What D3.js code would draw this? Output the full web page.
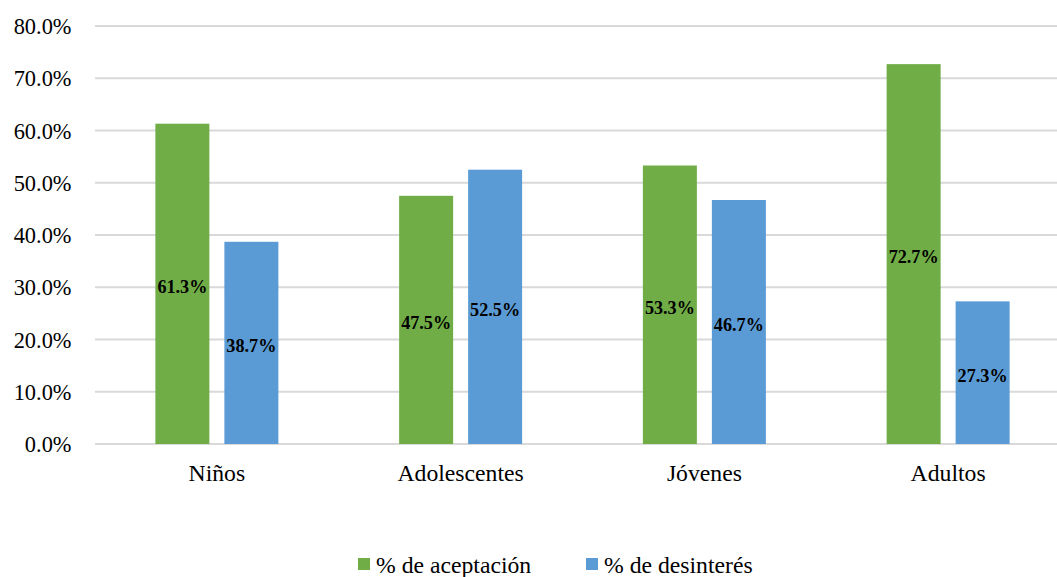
<!DOCTYPE html>
<html><head><meta charset="utf-8">
<script src="https://cdn.jsdelivr.net/npm/d3@7"></script>
<style>body{margin:0;background:#fff}svg{display:block}</style>
</head><body>
<script>
const categories = ["Niños", "Adolescentes", "Jóvenes", "Adultos"];
const seriesNames = ["% de aceptación", "% de desinterés"];
const aceptacion = [61.3, 47.5, 53.3, 72.7];
const desinteres = [38.7, 52.5, 46.7, 27.3];
const yTicks = [0, 10, 20, 30, 40, 50, 60, 70, 80];
const colors = ["#70AD47", "#5B9BD5"];

const W = 1057, H = 577;
const FF = "Liberation Serif";
const svg = d3.select("body").append("svg").attr("width", W).attr("height", H);

const x = d3.scaleBand().domain(categories).range([95, 1070]).padding(0);
const y = d3.scaleLinear().domain([0, 80]).range([444, 26]);
const barW = 54, gap = 15;

// gridlines
svg.append("g").selectAll("line").data(yTicks).join("line")
  .attr("x1", 95).attr("x2", W)
  .attr("y1", d => y(d)).attr("y2", d => y(d))
  .attr("stroke", "#d9d9d9").attr("stroke-width", 2);

// y axis labels
const yAxis = d3.axisLeft(y).tickValues(yTicks).tickFormat(d => d.toFixed(1) + "%").tickSize(0).tickPadding(0);
const ya = svg.append("g").attr("transform", "translate(71.5,0)").call(yAxis).attr("font-family", null);
ya.select(".domain").remove();
ya.selectAll("text").style("font-family", FF).style("font-size", "22.4px").attr("fill", "#000").attr("dy", "0.34em");

// x axis labels
const xAxis = d3.axisBottom(x).tickSize(0).tickPadding(0);
const xa = svg.append("g").attr("transform", "translate(0,480.5)").call(xAxis).attr("font-family", null);
xa.select(".domain").remove();
xa.selectAll("text").style("font-family", FF).style("font-size", "23.7px").attr("fill", "#000").attr("dy", "0");

const data = categories.map((c, i) => ({ c, vals: [aceptacion[i], desinteres[i]] }));
const groups = svg.append("g").selectAll("g").data(data).join("g")
  .attr("transform", d => `translate(${x(d.c) + x.bandwidth() / 2},0)`);

const bx = j => j === 0 ? -(barW + gap / 2) : gap / 2;

groups.selectAll("rect").data(d => d.vals.map((v, j) => ({ v, j }))).join("rect")
  .attr("x", d => bx(d.j))
  .attr("width", barW)
  .attr("y", d => y(d.v)).attr("height", d => y(0) - y(d.v))
  .attr("fill", d => colors[d.j]);

groups.selectAll("text").data(d => d.vals.map((v, j) => ({ v, j }))).join("text")
  .attr("x", d => bx(d.j) + barW / 2)
  .attr("y", d => (y(d.v) + y(0)) / 2 + 3)
  .attr("dy", "0.35em")
  .attr("text-anchor", "middle")
  .style("font-family", FF).style("font-weight", "bold").style("font-size", "18.2px").attr("fill", "#000")
  .text(d => d.v.toFixed(1) + "%");

// legend
const legendX = [358, 586];
const leg = svg.append("g").selectAll("g").data(seriesNames).join("g")
  .attr("transform", (d, i) => `translate(${legendX[i]},558)`);
leg.append("rect").attr("width", 12).attr("height", 12).attr("fill", (d, i) => colors[i]);
leg.append("text").attr("x", 18).attr("y", 15.3).style("font-family", FF).style("font-size", "23.7px").attr("fill", "#000").text(d => d);
</script>
</body></html>
